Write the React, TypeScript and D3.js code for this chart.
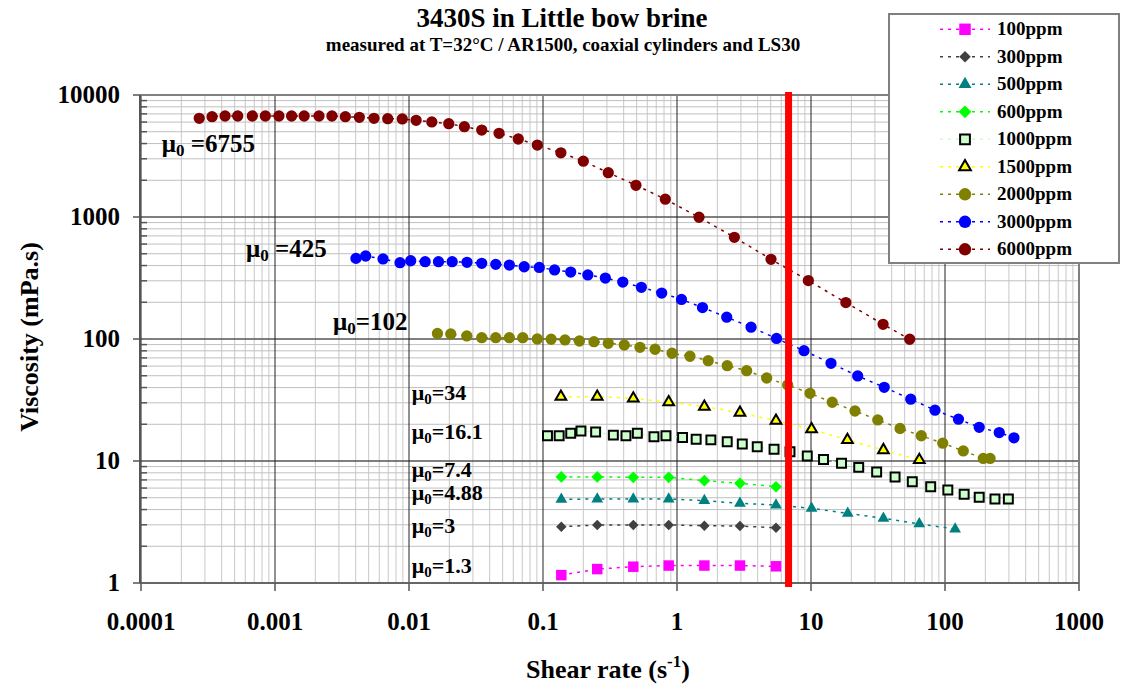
import React from 'react'
import * as d3 from 'd3'

const width = 1127
const height = 686
const plot = { left: 141, right: 1079, top: 95, bottom: 583 }

// tick labels
const xTicks = [0.0001, 0.001, 0.01, 0.1, 1, 10, 100, 1000]
const xTickLabels = ['0.0001', '0.001', '0.01', '0.1', '1', '10', '100', '1000']
const yTicks = [1, 10, 100, 1000, 10000]
const yTickLabels = ['1', '10', '100', '1000', '10000']

// series (shear rate 1/s, viscosity mPa.s)
const shear100 = [0.137, 0.254, 0.472, 0.867, 1.6, 2.95, 5.48]
const visc100 = [1.16, 1.3, 1.36, 1.39, 1.39, 1.39, 1.37]

const shear300 = [0.137, 0.254, 0.472, 0.867, 1.6, 2.95, 5.48]
const visc300 = [2.89, 2.99, 2.99, 2.99, 2.95, 2.93, 2.84]

const shear500 = [0.137, 0.254, 0.472, 0.867, 1.6, 2.95, 5.48, 10.1, 18.8, 34.7, 64.3, 119]
const visc500 = [4.85, 4.88, 4.88, 4.88, 4.73, 4.5, 4.36, 4.09, 3.72, 3.39, 3.05, 2.77]

const shear600 = [0.137, 0.254, 0.472, 0.867, 1.6, 2.95, 5.48]
const visc600 = [7.41, 7.41, 7.35, 7.35, 6.9, 6.56, 6.15]

const shear1000 = [0.108, 0.132, 0.161, 0.192, 0.247, 0.335, 0.416, 0.506, 0.673, 0.827, 1.1, 1.39, 1.79, 2.37, 3.07, 3.97, 5.3, 6.97, 9.38, 12.4, 16.9, 22.7, 30.9, 42.4, 57, 78.2, 105, 139, 180, 236, 297]
const visc1000 = [16.1, 16.1, 16.9, 17.6, 17.3, 16.3, 16.1, 16.9, 15.8, 16.1, 15.6, 15.1, 14.9, 14.4, 13.8, 13.1, 12.5, 11.9, 11.0, 10.3, 9.57, 8.87, 8.12, 7.39, 6.76, 6.15, 5.78, 5.33, 5.04, 4.89, 4.89]

const shear1500 = [0.136, 0.254, 0.472, 0.867, 1.6, 2.95, 5.48, 10.1, 18.7, 34.7, 64.3]
const visc1500 = [33.7, 33.7, 32.6, 30.3, 27.9, 24.9, 21.4, 18.2, 14.9, 12.3, 10.2]

const shear2000 = [0.0163, 0.0205, 0.027, 0.0349, 0.0444, 0.0561, 0.0706, 0.0907, 0.115, 0.146, 0.187, 0.24, 0.307, 0.404, 0.529, 0.686, 0.918, 1.25, 1.71, 2.37, 3.31, 4.67, 6.7, 9.83, 14.4, 21.3, 31.5, 46.2, 66.5, 96.2, 137, 193, 217]
const visc2000 = [111, 110, 106, 102.5, 102.5, 102.5, 102.5, 100, 99.5, 98.2, 96.3, 95.1, 92.2, 89.3, 85.5, 82.4, 76.4, 72.2, 66.4, 60.4, 55.0, 47.9, 42.0, 35.9, 30.3, 25.7, 21.7, 18.5, 16.1, 14.0, 12.1, 10.5, 10.5]

const shear3000 = [0.00402, 0.00475, 0.0064, 0.00857, 0.0103, 0.0132, 0.0166, 0.021, 0.0271, 0.0349, 0.0444, 0.0561, 0.0724, 0.0938, 0.122, 0.161, 0.216, 0.292, 0.394, 0.542, 0.769, 1.08, 1.55, 2.35, 3.57, 5.53, 8.87, 14.1, 22.3, 35.2, 55.5, 84.2, 126, 180, 254, 327]
const visc3000 = [458, 479, 453, 422, 438, 430, 430, 430, 425, 417, 409, 404, 391, 386, 368, 354, 335, 316, 293, 265, 238, 211, 181, 151, 125, 101, 80.2, 63.2, 49.8, 40.2, 32.1, 26.1, 22.0, 18.9, 17.1, 15.5]

const shear6000 = [0.000272, 0.000339, 0.000424, 0.000527, 0.000677, 0.000847, 0.00107, 0.00133, 0.00165, 0.00213, 0.00266, 0.00335, 0.00426, 0.00548, 0.00694, 0.00891, 0.0113, 0.0148, 0.0198, 0.0259, 0.0349, 0.047, 0.0654, 0.0907, 0.136, 0.2, 0.307, 0.494, 0.818, 1.46, 2.68, 5.03, 9.55, 18.2, 34.5, 54.5]
const visc6000 = [6440, 6640, 6730, 6730, 6730, 6730, 6730, 6730, 6730, 6730, 6730, 6640, 6560, 6440, 6400, 6360, 6200, 6010, 5820, 5500, 5160, 4850, 4360, 3890, 3360, 2870, 2310, 1820, 1400, 995, 682, 450, 301, 199, 132, 99.5]

// critical shear rate marked with the red line
const redLineShear = 6.8

// zero-shear viscosity labels, anchored in data space (left edge / baseline)
const muLabels = [
  { pre: ' =', val: '6755', sx: 0.000143, sy: 3410, size: 25 },
  { pre: ' =', val: '425', sx: 0.000608, sy: 470, size: 25 },
  { pre: '=', val: '102', sx: 0.00271, sy: 119, size: 25 },
  { pre: '=', val: '34', sx: 0.0105, sy: 31.6, size: 22 },
  { pre: '=', val: '16.1', sx: 0.0105, sy: 15.1, size: 22 },
  { pre: '=', val: '7.4', sx: 0.0105, sy: 7.39, size: 22 },
  { pre: '=', val: '4.88', sx: 0.0105, sy: 4.79, size: 22 },
  { pre: '=', val: '3', sx: 0.0105, sy: 2.57, size: 22 },
  { pre: '=', val: '1.3', sx: 0.0105, sy: 1.21, size: 22 },
]

const series = [
  { name: '100ppm', shear: shear100, visc: visc100, line: '#FF00FF', fill: '#FF00FF', stroke: 'none', shape: 'square', size: 110 },
  { name: '300ppm', shear: shear300, visc: visc300, line: '#404040', fill: '#404040', stroke: 'none', shape: 'diamond', size: 55 },
  { name: '500ppm', shear: shear500, visc: visc500, line: '#008080', fill: '#008080', stroke: 'none', shape: 'triangle', size: 60 },
  { name: '600ppm', shear: shear600, visc: visc600, line: '#00FF00', fill: '#00FF00', stroke: 'none', shape: 'diamond', size: 68 },
  { name: '1000ppm', shear: shear1000, visc: visc1000, line: '#CCFFCC', fill: '#CCFFCC', stroke: '#000', shape: 'square', size: 80 },
  { name: '1500ppm', shear: shear1500, visc: visc1500, line: '#FFFF00', fill: '#FFFF00', stroke: '#000', shape: 'triangle', size: 50 },
  { name: '2000ppm', shear: shear2000, visc: visc2000, line: '#808000', fill: '#808000', stroke: 'none', shape: 'circle', size: 100 },
  { name: '3000ppm', shear: shear3000, visc: visc3000, line: '#0000FF', fill: '#0000FF', stroke: 'none', shape: 'circle', size: 100 },
  { name: '6000ppm', shear: shear6000, visc: visc6000, line: '#800000', fill: '#800000', stroke: 'none', shape: 'circle', size: 100 },
]

const font = '"Liberation Serif", "Times New Roman", serif'

function symbolPath(shape, size) {
  if (shape === 'circle') return d3.symbol().type(d3.symbolCircle).size(size)()
  if (shape === 'triangle') return d3.symbol().type(d3.symbolTriangle).size(size)()
  return d3.symbol().type(d3.symbolSquare).size(size)()
}

function Marker({ s, cx, cy, scale = 1 }) {
  const rot = s.shape === 'diamond' ? ' rotate(45)' : ''
  return (
    <path
      d={symbolPath(s.shape, s.size * scale)}
      transform={`translate(${cx},${cy})${rot}`}
      fill={s.fill}
      stroke={s.stroke}
      strokeWidth={s.stroke === 'none' ? 0 : 2}
    />
  )
}

const App = () => {
  const x = d3.scaleLog().domain([1e-4, 1e3]).range([plot.left, plot.right])
  const y = d3.scaleLog().domain([1, 1e4]).range([plot.bottom, plot.top])

  const isMajor = t => Math.abs(Math.log10(t) - Math.round(Math.log10(t))) < 1e-9
  const xMinor = x.ticks().filter(t => !isMajor(t))
  const yMinor = y.ticks().filter(t => !isMajor(t))

  const line = d3.line().x(d => x(d[0])).y(d => y(d[1]))

  const legendTop = 29.3
  const legendStep = 27.5

  return (
    <svg width={width} height={height} style={{ position: 'absolute', left: 0, top: 0, background: '#fff' }}
      fontFamily={font} fontWeight="bold">
      {/* minor grid */}
      {xMinor.map((t, i) => (
        <line key={'xm' + i} x1={x(t)} x2={x(t)} y1={plot.top} y2={plot.bottom} stroke="#c8c8c8" strokeWidth={1} />
      ))}
      {yMinor.map((t, i) => (
        <line key={'ym' + i} x1={plot.left} x2={plot.right} y1={y(t)} y2={y(t)} stroke="#c0c0c0" strokeWidth={1} />
      ))}
      {/* major grid */}
      {yTicks.map((t, i) => (
        <line key={'yM' + i} x1={plot.left} x2={plot.right} y1={y(t)} y2={y(t)} stroke="#555" strokeWidth={1.5} />
      ))}
      {xTicks.map((t, i) => (
        <line key={'xM' + i} x1={x(t)} x2={x(t)} y1={plot.top} y2={plot.bottom} stroke="#222" strokeWidth={1} />
      ))}
      {/* frame */}
      <line x1={plot.left} x2={plot.right} y1={plot.top} y2={plot.top} stroke="#808080" strokeWidth={2} />
      <line x1={plot.right} x2={plot.right} y1={plot.top} y2={plot.bottom} stroke="#808080" strokeWidth={2} />
      <line x1={plot.left} x2={plot.right} y1={plot.bottom} y2={plot.bottom} stroke="#666" strokeWidth={2} />
      <line x1={plot.left - 1} x2={plot.left - 1} y1={plot.top} y2={plot.bottom} stroke="#555" strokeWidth={2} />

      {/* axis ticks */}
      {yTicks.map((t, i) => (
        <line key={'yt' + i} x1={plot.left - 8} x2={plot.left} y1={y(t)} y2={y(t)} stroke="#555" strokeWidth={1.5} />
      ))}
      {yMinor.map((t, i) => (
        <line key={'ytm' + i} x1={plot.left} x2={plot.left + 6} y1={y(t)} y2={y(t)} stroke="#555" strokeWidth={1.5} />
      ))}
      {xTicks.map((t, i) => (
        <line key={'xt' + i} x1={x(t)} x2={x(t)} y1={plot.bottom} y2={plot.bottom + 8} stroke="#555" strokeWidth={1.5} />
      ))}

      {/* tick labels */}
      {yTicks.map((t, i) => (
        <text key={'yl' + i} x={120} y={y(t) + 8} textAnchor="end" fontSize={25}>{yTickLabels[i]}</text>
      ))}
      {xTicks.map((t, i) => (
        <text key={'xl' + i} x={x(t)} y={630} textAnchor="middle" fontSize={25}>{xTickLabels[i]}</text>
      ))}

      {/* series */}
      {series.map(s => {
        const pts = s.shear.map((v, i) => [v, s.visc[i]])
        return (
          <g key={s.name}>
            <path d={line(pts)} fill="none" stroke={s.line} strokeWidth={1.5} strokeDasharray="3,5" />
            {pts.map((p, i) => (
              <Marker key={i} s={s} cx={x(p[0])} cy={y(p[1])} />
            ))}
          </g>
        )
      })}

      {/* red marker line */}
      <line x1={x(redLineShear)} x2={x(redLineShear)} y1={plot.top - 3} y2={plot.bottom + 4} stroke="#FF0000" strokeWidth={7} />

      {/* zero-shear labels */}
      {muLabels.map((m, i) => (
        <text key={'mu' + i} x={x(m.sx)} y={y(m.sy)} fontSize={m.size}>
          μ<tspan dy={4} fontSize={m.size * 0.68}>0</tspan><tspan dy={-4}>{m.pre + m.val}</tspan>
        </text>
      ))}

      {/* titles */}
      <text x={562} y={27} textAnchor="middle" fontSize={27}>3430S in Little bow brine</text>
      <text x={563} y={51} textAnchor="middle" fontSize={19}>measured at T=32°C / AR1500, coaxial cylinders and LS30</text>
      <text transform="translate(38,337) rotate(-90)" textAnchor="middle" fontSize={26}>Viscosity (mPa.s)</text>
      <text x={608} y={678} textAnchor="middle" fontSize={26}>
        Shear rate (s<tspan dy={-11} fontSize={17}>-1</tspan><tspan dy={11}>)</tspan>
      </text>

      {/* legend */}
      <rect x={889} y={14} width={230} height={249} fill="#fff" stroke="#808080" strokeWidth={2} />
      {series.map((s, i) => {
        const ly = legendTop + i * legendStep
        return (
          <g key={'lg' + s.name}>
            <line x1={940} x2={990} y1={ly} y2={ly} stroke={s.line} strokeWidth={1.5} strokeDasharray="3,5" />
            <Marker s={s} cx={965} cy={ly} scale={1.2} />
            <text x={997} y={ly + 6} fontSize={19}>{s.name}</text>
          </g>
        )
      })}
    </svg>
  )
}

export default App
